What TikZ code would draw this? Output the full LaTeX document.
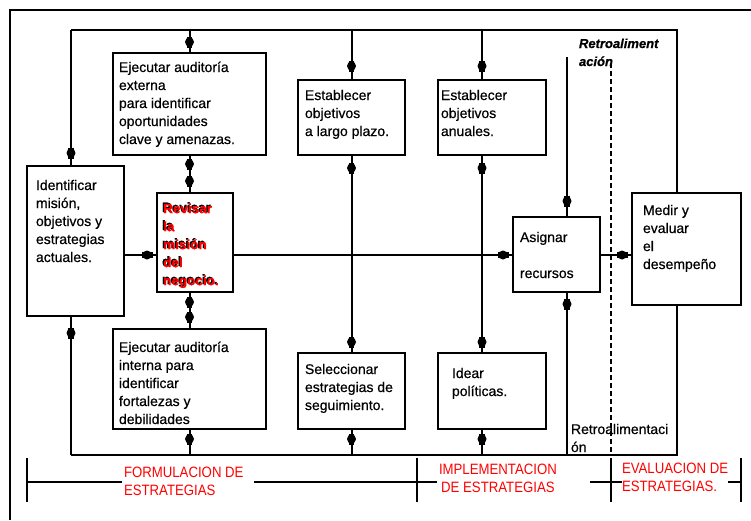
\documentclass[tikz,border=0pt]{standalone}
\usepackage{fontspec}
\setmainfont{Liberation Sans}[FakeBold=0.5]
\newfontfamily\phasefont{Liberation Sans}[FakeStretch=0.88]
\usetikzlibrary{decorations.markings,calc}

\definecolor{phasered}{RGB}{255,0,0}

\tikzset{
  box/.style={draw, line width=2pt, inner sep=0pt, outer sep=0pt, anchor=north west},
  wire/.style={line width=2pt},
  % small black bead sitting on a connector, #1 = distance along the path
  bead/.style={postaction={decorate, decoration={markings,
      mark=at position #1 with {
        \fill (0,0) ellipse [x radius=4.6pt, y radius=4.5pt];
        \fill (-5.5pt,-2.6pt) rectangle (6pt,2.6pt);
      }}}},
  txt/.style={inner sep=0pt, outer sep=0pt, anchor=north west, align=left,
      font=\fontsize{14pt}{18pt}\selectfont},
  phase/.style={inner sep=0pt, outer sep=0pt, anchor=north west, align=left,
      text=phasered, font=\phasefont\fontsize{15pt}{18pt}\selectfont},
  fbtxt/.style={inner sep=0pt, outer sep=0pt, anchor=north west, align=left},
  axis/.style={line width=2pt},
}

\begin{document}
\begin{tikzpicture}[x=1pt, y=-1pt]
\useasboundingbox (0,0) rectangle (751,520);
\fill[white] (0,0) rectangle (751,520);

% outer frame
\draw[line width=2pt] (10,520) -- (10,10) -- (751,10);

% process boxes
\node[box, minimum width=153pt, minimum height=102pt] (A) at (113,53) {};
\node[box, minimum width=107pt, minimum height=75pt]  (B) at (298,80) {};
\node[box, minimum width=108pt, minimum height=75pt]  (C) at (438,80) {};
\node[box, minimum width=97pt,  minimum height=150pt] (D) at (27,166) {};
\node[box, minimum width=76pt,  minimum height=99pt]  (E) at (157,193) {};
\node[box, minimum width=87pt,  minimum height=75pt]  (F) at (513,217) {};
\node[box, minimum width=109pt, minimum height=112pt] (G) at (632,193) {};
\node[box, minimum width=153pt, minimum height=100pt] (H) at (113,329) {};
\node[box, minimum width=107pt, minimum height=76pt]  (I) at (298,353) {};
\node[box, minimum width=108pt, minimum height=76pt]  (J) at (438,353) {};

% box texts (first baseline = y + 12.6)
\node[txt] (At) at (119,59.4) {\strut Ejecutar auditoría\\externa\\para identificar\\oportunidades\\clave y amenazas.};
\node[txt] (Bt) at (305,87.4) {\strut Establecer\\objetivos\\a largo plazo.};
\node[txt] (Ct) at (441,87.4) {\strut Establecer\\objetivos\\anuales.};
\node[txt] (Dt) at (36,177.4) {\strut Identificar\\misión,\\objetivos y\\estrategias\\actuales.};
\node[txt, font=\fontsize{13.5pt}{18pt}\selectfont\bfseries] (Etb) at (162,199.4)
  {\strut Revisar\\la\\misión\\del\\negocio.};
\node[txt, text=phasered, font=\fontsize{13.5pt}{18pt}\selectfont\bfseries] (Et) at (163.3,200.6)
  {\strut Revisar\\la\\misión\\del\\negocio.};
\node[txt] (Ft) at (520,229.4) {\strut Asignar\\[18pt]recursos};
\node[txt] (Gt) at (643,202.4) {\strut Medir y\\evaluar\\el\\desempeño};
\node[txt] (Ht) at (119,339.4) {\strut Ejecutar auditoría\\interna para\\identificar\\fortalezas y\\debilidades};
\node[txt] (It) at (305,361.4) {\strut Seleccionar\\estrategias de\\seguimiento.};
\node[txt] (Jt) at (452,365.4) {\strut Idear\\políticas.};

% bus corners and columns
\coordinate (tl) at (71,30);
\coordinate (tr) at (677,30);
\coordinate (bl) at (71,455);
\coordinate (br) at (677,455);
\coordinate (colC) at (482,30);
\coordinate (row) at (0,255);
\coordinate (fbTop) at (567,57);
\coordinate (fbBot) at (567,455);
\coordinate (dashTop) at (611,63);
\coordinate (dashBot) at (611,455);

% top bus
\draw[wire] (tl) -- (tr) -- (tr |- G.north);
\draw[wire, bead=-13pt] (tl) -- (tl |- D.north);
\draw[wire, bead=-11pt] (A.north |- tl) -- (A.north);
\draw[wire, bead=-14pt] (B.north |- tl) -- (B.north);
\draw[wire, bead=-14pt] (colC) -- (colC |- C.north);

% links around the mission box
\draw[wire, bead=9pt, bead=-12pt] (A.south) -- (A.south |- E.north);
\draw[wire, bead=10pt, bead=-12pt] (A.south |- E.south) -- (A.south |- H.north);
\draw[wire, bead=-10pt] (D.east |- row) -- (E.west |- row);
\draw[wire, bead=-10pt] (E.east |- row) -- (F.west |- row);
\draw[wire, bead=-10pt] (F.east |- row) -- (G.west |- row);

% vertical links between objectives and strategies/policies
\draw[wire, bead=13pt, bead=-11pt] (B.south) -- (I.north);
\draw[wire, bead=13pt, bead=-11pt] (colC |- C.south) -- (colC |- J.north);

% feedback into resource allocation
\draw[wire, bead=-16pt] (fbTop) -- (fbTop |- F.north);
\draw[wire, bead=12pt] (fbTop |- F.south) -- (fbBot);

% bottom bus
\draw[wire] (bl) -- (br) -- (br |- G.south);
\draw[wire, bead=17pt] (bl |- D.south) -- (bl);
\draw[wire, bead=10pt] (H.south) -- (H.south |- bl);
\draw[wire, bead=10pt] (I.south) -- (I.south |- bl);
\draw[wire, bead=10pt] (colC |- J.south) -- (colC |- bl);

% dashed feedback divider
\draw[line width=1.5pt, dash pattern=on 5pt off 3pt] (dashTop) -- (dashBot);

% feedback labels
\node[fbtxt, font=\fontsize{13pt}{18pt}\selectfont\bfseries\itshape] (fbA) at (579,35.4)
  {\strut Retroaliment\\ación};
\node[fbtxt, font=\fontsize{14pt}{18pt}\selectfont] (fbB) at (571,421.4)
  {\strut Retroalimentaci\\ón};

% phase axis
\draw[axis] (27,458) -- (27,502);
\draw[axis] (417,458) -- (417,502);
\draw[axis] (611,458) -- (611,502);
\draw[axis] (741,458) -- (741,502);
\draw[axis] (27,482) -- (122,482);
\draw[axis] (254,482) -- (437,482);
\draw[axis] (590,482) -- (622,482);
\draw[axis] (728,482) -- (741,482);

\node[phase] (pF) at (124,464.4) {\strut FORMULACION DE\\ESTRATEGIAS};
\node[phase, align=center] (pI) at (439,461.4) {\strut IMPLEMENTACION\\DE ESTRATEGIAS};
\node[phase] (pE) at (622,460.4) {\strut EVALUACION DE\\ESTRATEGIAS.};
\end{tikzpicture}
\end{document}
